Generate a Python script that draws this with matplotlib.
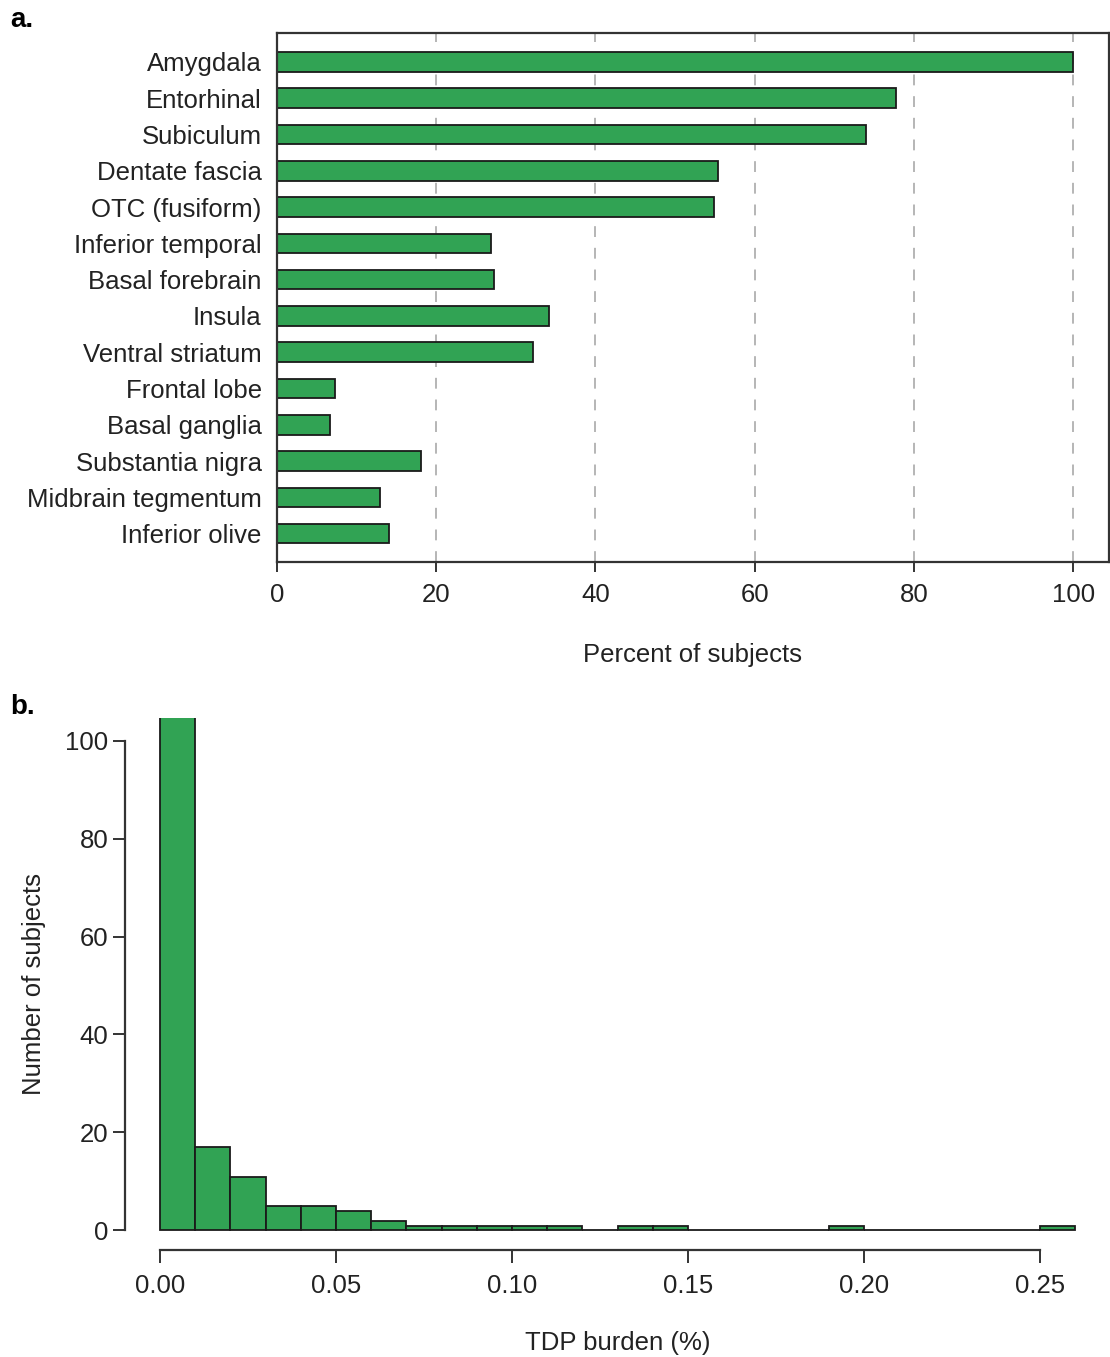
import numpy as np
import matplotlib
matplotlib.use("Agg")
import matplotlib.pyplot as plt

plt.rcParams['font.family'] = ['Liberation Sans', 'DejaVu Sans']

# panel a data
regions = ["Amygdala", "Entorhinal", "Subiculum", "Dentate fascia", "OTC (fusiform)",
           "Inferior temporal", "Basal forebrain", "Insula", "Ventral striatum",
           "Frontal lobe", "Basal ganglia", "Substantia nigra", "Midbrain tegmentum",
           "Inferior olive"]
percent = [100.0, 77.8, 74.0, 55.4, 54.9, 26.9, 27.3, 34.2, 32.2, 7.3, 6.7, 18.1, 12.9, 14.1]
pct_ticks = [0, 20, 40, 60, 80, 100]

# panel b data (bin width 0.01)
bin_edges = np.round(np.arange(0, 0.2601, 0.01), 2)
counts = [128, 17, 11, 5, 5, 4, 2, 1, 1, 1, 1, 1, 0, 1, 1,
          0, 0, 0, 0, 1, 0, 0, 0, 0, 0, 1]
burden_ticks = [0.00, 0.05, 0.10, 0.15, 0.20, 0.25]
count_ticks = [0, 20, 40, 60, 80, 100]

green = "#31a354"
edge = "#1a1a1a"
txt = "#222222"
spine_c = "#333333"

fig = plt.figure(figsize=(11.1, 13.57), dpi=100)

# ---- panel a
ax1 = fig.add_axes([0.2495, 0.5859, 0.7496, 0.3898])
ypos = np.arange(len(regions))
for x in pct_ticks[1:]:
    ax1.axvline(x, color="#b0b0b0", lw=1.3, ls=(0, (6, 6)), zorder=0)
ax1.barh(ypos, percent, height=0.54, color=green, edgecolor=edge, linewidth=1.3, zorder=2)
ax1.set_xlim(0, 104.5)
ax1.set_ylim(len(regions) - 1 + 0.78, -0.8)
ax1.set_yticks(ypos)
ax1.set_yticklabels(regions, fontsize=18.5, color=txt)
ax1.tick_params(axis="y", length=0, pad=11)
ax1.set_xticks(pct_ticks)
ax1.set_xticklabels([str(t) for t in pct_ticks], fontsize=18.5, color=txt)
ax1.tick_params(axis="x", length=7, width=1.4, color=spine_c, pad=8, direction="out")
for s in ax1.spines.values():
    s.set_color(spine_c)
    s.set_linewidth(1.6)
ax1.set_xlabel("Percent of subjects", fontsize=18.5, color=txt, labelpad=26)

# ---- panel b
ax2 = fig.add_axes([0.1126, 0.0788, 0.8874, 0.3921])
ax2.hist(bin_edges[:-1], bins=bin_edges, weights=counts, color=green,
         edgecolor=edge, linewidth=1.3)
ax2.set_xlim(-0.00994, 0.2699)
ax2.set_ylim(-4, 104.6)
for side in ["top", "right"]:
    ax2.spines[side].set_visible(False)
ax2.spines["left"].set_bounds(0, 100)
ax2.spines["bottom"].set_bounds(0, 0.25)
for side in ["left", "bottom"]:
    ax2.spines[side].set_color(spine_c)
    ax2.spines[side].set_linewidth(1.6)
ax2.set_yticks(count_ticks)
ax2.set_yticklabels([str(t) for t in count_ticks], fontsize=18.5, color=txt)
ax2.set_xticks(burden_ticks)
ax2.set_xticklabels([f"{t:.2f}" for t in burden_ticks], fontsize=18.5, color=txt)
ax2.tick_params(axis="both", length=9, width=1.4, color=spine_c, direction="out")
ax2.tick_params(axis="y", pad=3)
ax2.tick_params(axis="x", pad=8)
ax2.set_xlabel("TDP burden (%)", fontsize=18.5, color=txt, labelpad=24)
ax2.set_ylabel("Number of subjects", fontsize=18.5, color=txt, labelpad=14)

fig.text(0.009, 0.985, "a.", fontsize=20, fontweight="bold", va="center")
fig.text(0.009, 0.479, "b.", fontsize=20, fontweight="bold", va="center")

fig.savefig("out.png", dpi=100)
plt.close()
